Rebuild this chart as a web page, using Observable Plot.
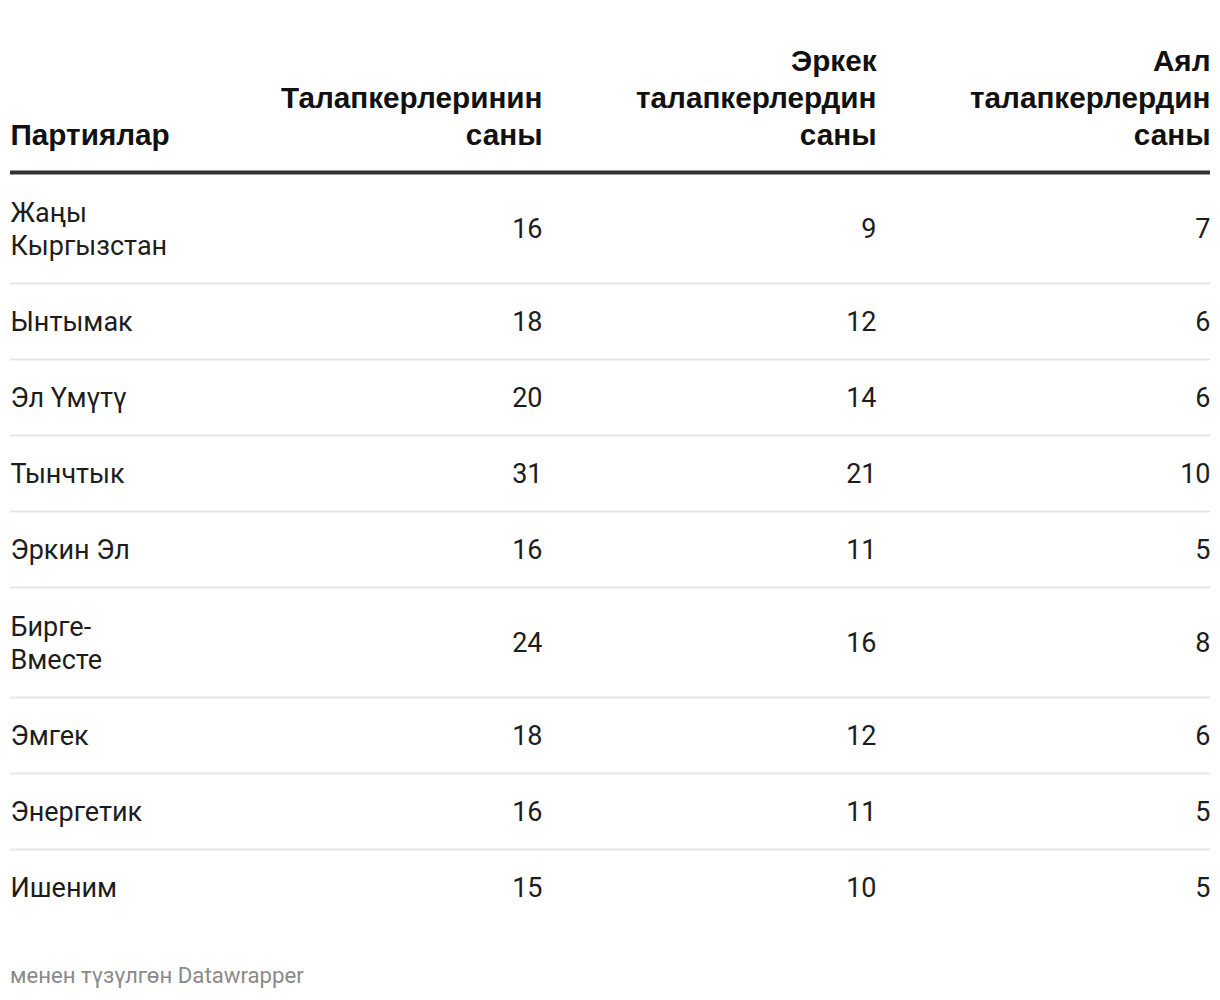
<!DOCTYPE html>
<html>
<head>
<meta charset="utf-8">
<script src="https://cdn.jsdelivr.net/npm/d3@7"></script>
<script src="https://cdn.jsdelivr.net/npm/@observablehq/plot@0.6"></script>
<style>
  html, body { margin: 0; padding: 0; background: #fff; }
  #chart { position: relative; width: 1220px; }
  #footer { font-family: Roboto, sans-serif; font-size: 22.2px; color: #8a8a8a; margin: 22px 0 0 10px; line-height: 26px; }
</style>
</head>
<body>
<div id="chart"></div>
<div id="footer">менен түзүлгөн Datawrapper</div>
<script>
// ---- data ----
const headers = ["Партиялар", "Талапкерлеринин\nсаны", "Эркек\nталапкерлердин\nсаны", "Аял\nталапкерлердин\nсаны"];
const parties = ["Жаңы\nКыргызстан", "Ынтымак", "Эл Үмүтү", "Тынчтык", "Эркин Эл", "Бирге-\nВместе", "Эмгек", "Энергетик", "Ишеним"];
const totalCandidates = [16, 18, 20, 31, 16, 24, 18, 16, 15];
const maleCandidates = [9, 12, 14, 21, 11, 16, 12, 11, 10];
const femaleCandidates = [7, 6, 6, 10, 5, 8, 6, 5, 5];

// ---- layout (derived) ----
const W = 1220, H = 940;
const left = 10, right = 1210;
const firstCol = 198;
const colW = (right - left - firstCol) / 3;
const colEdges = [left, left + firstCol + colW, left + firstCol + 2 * colW, right]; // anchor x per column
const headerBaseline = 144;
const thickRule = 172;
const bodyTop = 173;
const singleRow = 76, extraLine = 34;

const rows = [];
let yTop = bodyTop;
parties.forEach((p, i) => {
  const lines = p.split("\n").length;
  const h = singleRow + extraLine * (lines - 1);
  rows.push({party: p, total: totalCandidates[i], male: maleCandidates[i], female: femaleCandidates[i],
             top: yTop, mid: yTop + h / 2, bottom: yTop + h, last: i === parties.length - 1});
  yTop += h;
});

const headerData = headers.map((h, i) => ({label: h, x: colEdges[i], anchor: i === 0 ? "start" : "end"}));

const cells = [];
rows.forEach(r => {
  cells.push({x: colEdges[0], y: r.mid, text: r.party, anchor: "start"});
  cells.push({x: colEdges[1], y: r.mid, text: String(r.total), anchor: "end"});
  cells.push({x: colEdges[2], y: r.mid, text: String(r.male), anchor: "end"});
  cells.push({x: colEdges[3], y: r.mid, text: String(r.female), anchor: "end"});
});

const headFont = "'Liberation Sans', Arial, Helvetica, sans-serif";

const chart = Plot.plot({
  width: W,
  height: H,
  margin: 0,
  x: {type: "linear", domain: [0, W], range: [0, W], axis: null},
  y: {type: "linear", domain: [0, H], range: [0, H], axis: null},
  style: {fontFamily: "Roboto, sans-serif", background: "#fff", color: "#222"},
  marks: [
    // header
    Plot.text(headerData.filter(d => d.anchor === "start"), {
      x: "x", y: () => headerBaseline, text: "label", textAnchor: "start", lineAnchor: "bottom",
      fontSize: 29.7, fontWeight: "bold", fill: "#111", lineHeight: 1.24, fontFamily: headFont
    }),
    Plot.text(headerData.filter(d => d.anchor === "end"), {
      x: "x", y: () => headerBaseline, text: "label", textAnchor: "end", lineAnchor: "bottom",
      fontSize: 29.7, fontWeight: "bold", fill: "#111", lineHeight: 1.24, fontFamily: headFont
    }),
    // thick header rule
    Plot.ruleY([thickRule], {x1: left, x2: right, stroke: "#333", strokeWidth: 4}),
    // row separators
    Plot.ruleY(rows.filter(r => !r.last), {y: "bottom", x1: left, x2: right, stroke: "#e6e6e6", strokeWidth: 2}),
    // body cells
    Plot.text(cells.filter(d => d.anchor === "start"), {
      x: "x", y: "y", text: "text", textAnchor: "start", lineAnchor: "middle", dy: -1,
      fontSize: 27, fill: "#1d1d1d", lineHeight: 1.22
    }),
    Plot.text(cells.filter(d => d.anchor === "end"), {
      x: "x", y: "y", text: "text", textAnchor: "end", lineAnchor: "middle", dy: -1,
      fontSize: 27, fill: "#1d1d1d", lineHeight: 1.22
    })
  ]
});
document.getElementById("chart").appendChild(chart);
</script>
</body>
</html>
